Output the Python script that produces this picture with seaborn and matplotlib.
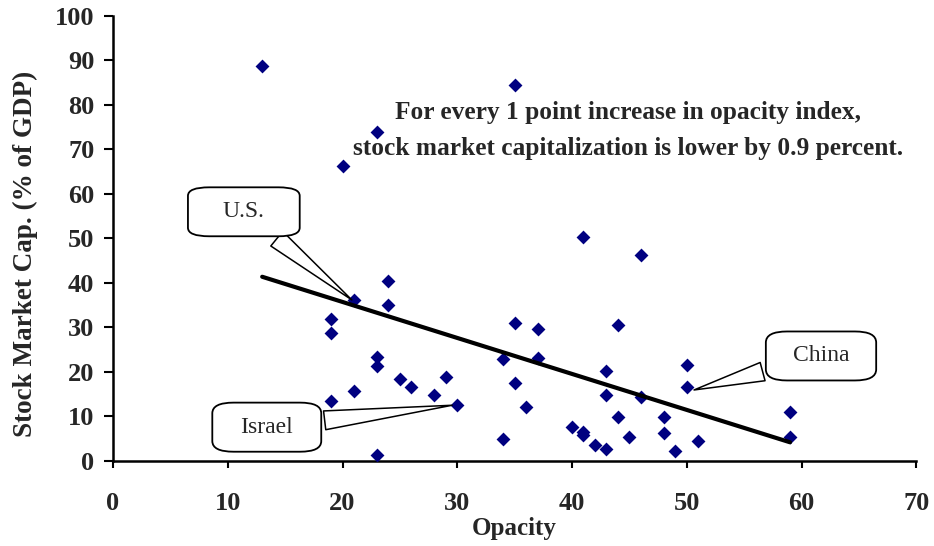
import matplotlib
matplotlib.use("Agg")
import matplotlib.pyplot as plt
import seaborn as sns
import pandas as pd

# Opacity index vs stock market capitalization (% of GDP)
opacity = [13, 20, 23, 35, 41, 46,
           21, 24, 24, 19, 19, 23, 23, 25, 26, 21, 28, 29, 30, 19, 23,
           34, 34, 35, 35, 37, 37, 36,
           44, 43, 43, 44, 46, 48, 48, 40, 41, 41, 42, 43, 45, 49,
           50, 50, 51, 59, 59]
market_cap = [88.8, 66.4, 74.0, 84.5, 50.3, 46.3,
              36.2, 40.4, 35.0, 31.9, 28.7, 23.4, 21.4, 18.5, 16.6, 15.7, 14.9, 18.9, 12.6, 13.4, 1.4,
              22.9, 5.0, 30.9, 17.6, 29.7, 23.1, 12.2,
              30.6, 20.3, 14.9, 9.9, 14.4, 9.9, 6.4, 7.7, 6.5, 5.8, 3.6, 2.7, 5.5, 2.3,
              21.6, 16.7, 4.6, 10.9, 5.5]

# trend line end points
trend_x = [13, 59]
trend_y = [41.4, 4.2]

df = pd.DataFrame({"Opacity": opacity, "Cap": market_cap})

sns.set_style("white")
plt.rcParams['font.family'] = ['Liberation Serif', 'DejaVu Serif']

fig = plt.figure(figsize=(9.34, 5.46), dpi=100)
ax = fig.add_axes([0.121, 0.1557, 0.860, 0.815])

sns.scatterplot(data=df, x="Opacity", y="Cap", marker="D", color="#000080",
                s=50, linewidth=0, ax=ax, zorder=3)
sns.lineplot(x=trend_x, y=trend_y, color="black", linewidth=3, ax=ax, zorder=4)

ax.set_xlim(0, 70)
ax.set_ylim(0, 100)
ax.set_xticks(range(0, 71, 10))
ax.set_yticks(range(0, 101, 10))
ax.tick_params(axis="both", bottom=True, left=True, direction="out",
               width=1.5, color="black", labelsize=19)
ax.tick_params(axis="x", length=5, pad=17)
ax.tick_params(axis="y", length=6.5, pad=7)
for lab in ax.get_xticklabels() + ax.get_yticklabels():
    lab.set_fontweight("bold")

for side in ["top", "right"]:
    ax.spines[side].set_visible(False)
for side in ["left", "bottom"]:
    ax.spines[side].set_color("black")
    ax.spines[side].set_linewidth(1.8)

ax.set_xlabel("Opacity", fontsize=18, fontweight="bold")
ax.set_ylabel("Stock Market Cap. (% of GDP)", fontsize=19.5, fontweight="bold")
ax.xaxis.set_label_coords(0.499, -0.126)
ax.yaxis.set_label_coords(-0.093, 0.465)

ax.text(44.9, 74.3,
        "For every 1 point increase in opacity index,\nstock market capitalization is lower by 0.9 percent.",
        ha="center", va="center", fontsize=18.3, fontweight="bold", linespacing=1.75,
        zorder=2)


def callout(label, point, where, pad, aspect):
    box = dict(boxstyle=f"round,pad={pad},rounding_size=0.9", mutation_aspect=aspect,
               fc="white", ec="black", lw=1.3)
    arrow = dict(arrowstyle="wedge,tail_width=0.8,shrink_factor=0.5",
                 fc="white", ec="black", lw=1.1)
    ax.annotate(label, xy=point, xytext=where, ha="center", va="center",
                fontsize=17, bbox=box, arrowprops=arrow, zorder=5)


callout("U.S.", (21, 35.8), (11.4, 56.0), 1.48, 0.40)
callout("Israel", (29.8, 12.6), (13.4, 7.6), 1.19, 0.50)
callout("China", (50.4, 15.8), (61.7, 23.6), 1.14, 0.52)

fig.savefig("out.png", dpi=100)
